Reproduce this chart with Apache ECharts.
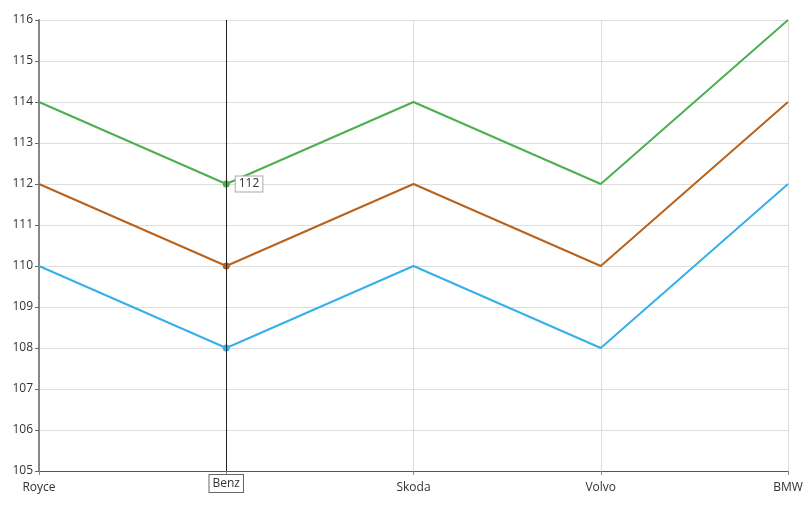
<!DOCTYPE html>
<html>
<head>
<meta charset="utf-8">
<script src="https://cdn.jsdelivr.net/npm/echarts@6/dist/echarts.min.js"></script>
<style>
    html, body {margin: 0; padding: 0; background: #fff;}
    #main {width: 812px; height: 509px;}
</style>
</head>
<body>
<div id="main"></div>
<script>
// chart data
const cars = ['Royce', 'Benz', 'Skoda', 'Volvo', 'BMW'];
const greenValues = [114, 112, 114, 112, 116];
const orangeValues = [112, 110, 112, 110, 114];
const blueValues = [110, 108, 110, 108, 112];
const hoverIndex = 1;

const font = '"Open Sans", "Noto Sans", sans-serif';
const colors = ['#4caf50', '#b8621b', '#35b0ea'];

const markerSymbol = (value, params) => (params.dataIndex === hoverIndex ? 'circle' : 'none');

const makeSeries = (name, values, color, withLabel) => ({
    name: name,
    type: 'line',
    showSymbol: true,
    symbol: markerSymbol,
    symbolSize: 7,
    lineStyle: {color: color, width: 2},
    itemStyle: {color: color},
    emphasis: {disabled: true},
    data: values.map((v, i) => (withLabel && i === hoverIndex) ? {
        value: v,
        label: {
            show: true,
            position: 'right',
            distance: 6,
            formatter: '{c}',
            color: '#333',
            fontFamily: font,
            fontSize: 12,
            backgroundColor: '#fff',
            borderColor: '#aaa',
            borderWidth: 1,
            padding: [2, 3, 1, 3]
        }
    } : v)
});

const myChart = echarts.init(document.getElementById('main'));
myChart.setOption({
    animation: false,
    grid: {left: 39, right: 24, top: 20, bottom: 38},
    axisPointer: {triggerOn: 'none'},
    xAxis: {
        type: 'category',
        data: cars,
        boundaryGap: false,
        axisLine: {lineStyle: {color: '#555', width: 1}},
        axisTick: {show: true, length: 4, lineStyle: {color: '#888'}},
        axisLabel: {color: '#333', fontFamily: font, fontSize: 12, margin: 11},
        splitLine: {show: true, lineStyle: {color: '#ddd'}},
        axisPointer: {
            show: true,
            value: cars[hoverIndex],
            status: 'show',
            type: 'line',
            lineStyle: {color: '#222', width: 1, type: 'solid'},
            label: {
                show: true,
                color: '#333',
                fontFamily: font,
                fontSize: 12,
                backgroundColor: '#fff',
                borderColor: '#666',
                borderWidth: 1,
                borderRadius: 0,
                padding: [3, 3, 2, 3],
                margin: 4
            }
        }
    },
    yAxis: {
        type: 'value',
        min: 105,
        max: 116,
        interval: 1,
        axisLine: {show: true, lineStyle: {color: '#888', width: 2}},
        axisTick: {show: true, length: 4, lineStyle: {color: '#666'}},
        axisLabel: {color: '#333', fontFamily: font, fontSize: 12, margin: 6},
        splitLine: {show: true, lineStyle: {color: '#ddd'}}
    },
    series: [
        makeSeries('Series 1', greenValues, colors[0], true),
        makeSeries('Series 2', orangeValues, colors[1], false),
        makeSeries('Series 3', blueValues, colors[2], false)
    ]
});
</script>
</body>
</html>
